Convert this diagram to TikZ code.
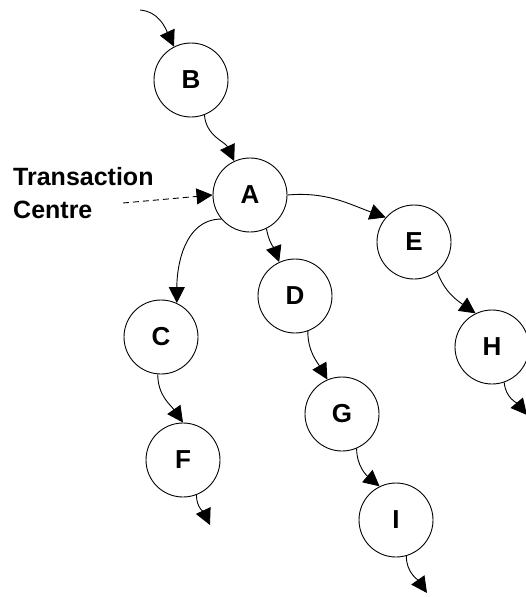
\documentclass[tikz,border=0pt]{standalone}
\usepackage{fontspec}
\setmainfont{Liberation Sans}
\usetikzlibrary{arrows.meta}
\tikzset{
    state/.style={circle, draw, line width=0.9pt, minimum size=74pt, inner sep=0pt, font=\fontsize{26}{28}\selectfont\bfseries},
    edge/.style={line width=0.9pt, -{Triangle[length=16pt, width=16pt]}},
}
\begin{document}
\begin{tikzpicture}[x=1pt, y=1pt]
    \useasboundingbox (0, 0) rectangle (526, -597);
    \node[state] (B) at (191, -80) {B};
    \node[state] (A) at (250, -195) {A};
    \node[state] (E) at (414, -242) {E};
    \node[state] (D) at (295, -296) {D};
    \node[state] (C) at (161, -337) {C};
    \node[state] (H) at (492, -347) {H};
    \node[state] (G) at (342, -414) {G};
    \node[state] (F) at (183, -460) {F};
    \node[state] (I) at (396, -520) {I};
    \node[anchor=north west, align=left, inner sep=0pt, font=\fontsize{25}{33}\selectfont\bfseries] (tc) at (13, -167) {Transaction\\Centre};
    \coordinate (in) at (140, -10);
    \coordinate (tcend) at (123, -203);
    \coordinate (Hout) at (527, -415);
    \coordinate (Fout) at (210, -525);
    \coordinate (Iout) at (427, -593);
    \draw[edge] (in) to[out=-5, in=115] (B.117);
    \draw[edge] (B.-69) to[out=-85, in=115] (A.115);
    \draw[edge] (A.0) to[out=5, in=160] (E.139);
    \draw[edge] (A.-64) to[out=-80, in=110] (D.115);
    \draw[edge] (A.-140) to[out=180, in=90] (C.65);
    \draw[edge] (C.-95) to[out=-90, in=125] (F.90);
    \draw[edge] (D.-70) to[out=-90, in=120] (G.113);
    \draw[edge] (E.-52) to[out=-70, in=145] (H.116);
    \draw[edge] (G.-67) to[out=-90, in=140] (I.116);
    \draw[edge] (H.-71) to[out=-85, in=130] (Hout);
    \draw[edge] (F.-69) to[out=-90, in=115] (Fout);
    \draw[edge] (I.-74) to[out=-90, in=125] (Iout);
    \draw[edge, dashed, dash pattern=on 6pt off 4pt] (tcend) -- (A.180);
\end{tikzpicture}
\end{document}
